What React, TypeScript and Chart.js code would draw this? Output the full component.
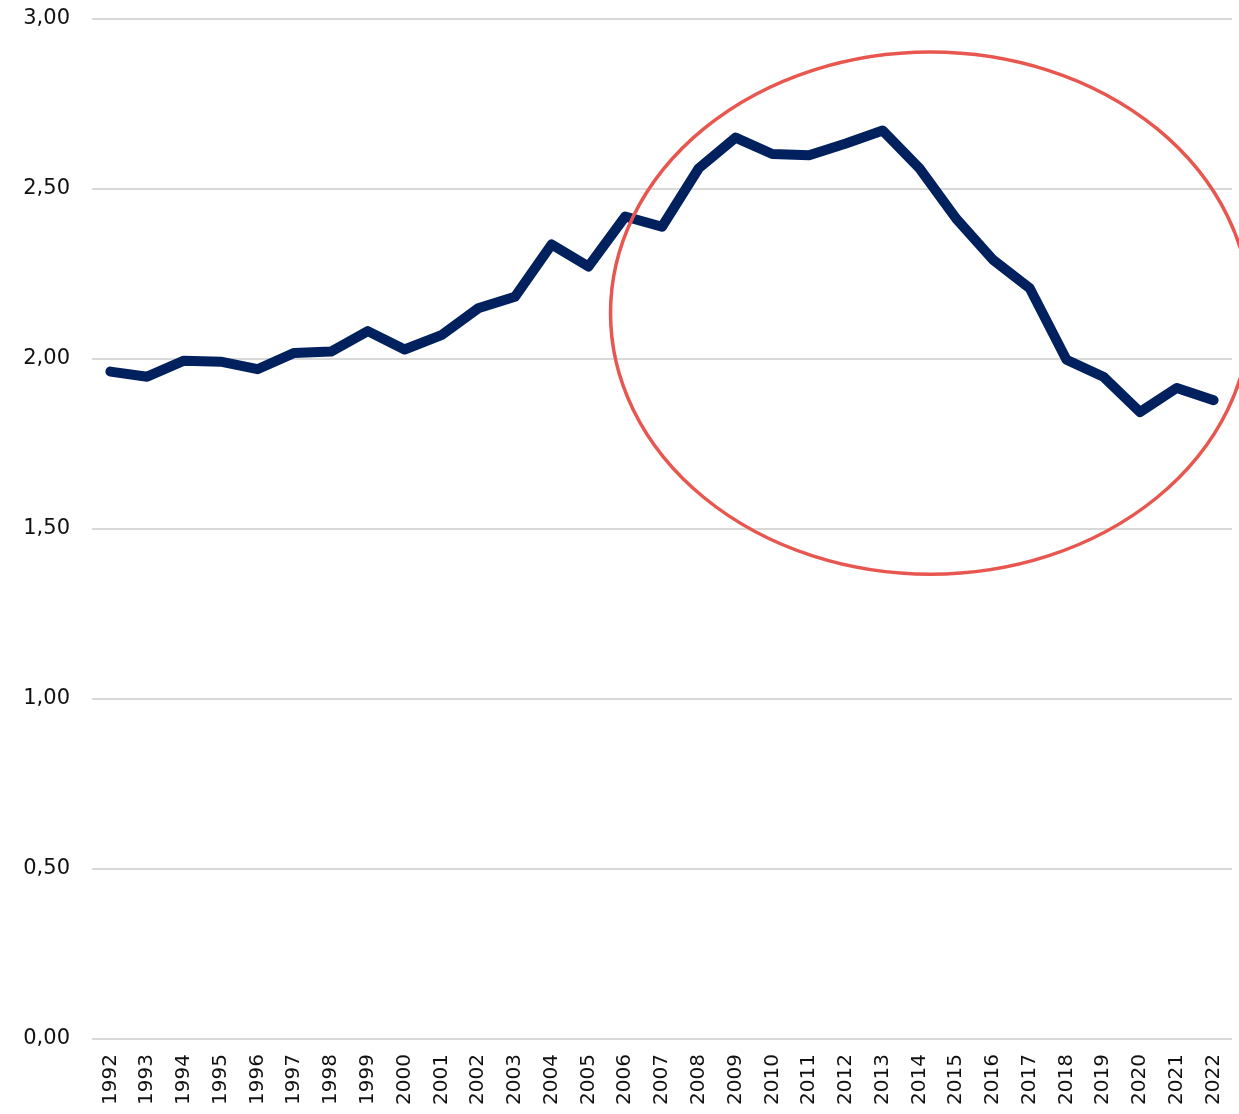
import React, { useEffect, useRef } from "react";
import { Chart, registerables } from "chart.js";

Chart.register(...registerables);

const years: string[] = [
  "1992", "1993", "1994", "1995", "1996", "1997", "1998", "1999", "2000", "2001",
  "2002", "2003", "2004", "2005", "2006", "2007", "2008", "2009", "2010", "2011",
  "2012", "2013", "2014", "2015", "2016", "2017", "2018", "2019", "2020", "2021", "2022",
];

const values: number[] = [
  1.963, 1.948, 1.995, 1.992, 1.97, 2.018, 2.022, 2.082, 2.028, 2.07,
  2.149, 2.183, 2.337, 2.272, 2.419, 2.389, 2.561, 2.651, 2.603, 2.599,
  2.634, 2.672, 2.561, 2.413, 2.292, 2.208, 1.998, 1.948, 1.844, 1.915, 1.879,
];

const yMin = 0;
const yMax = 3;
const yStep = 0.5;

// highlight ellipse, in data units (category index, value)
const ellipseCenterIndex = 22.3;
const ellipseCenterValue = 2.135;
const ellipseHalfWidthIndex = 8.7;
const ellipseHalfHeightValue = 0.768;

const FONT = "'DejaVu Sans', sans-serif";

const ellipsePlugin = {
  id: "highlightEllipse",
  afterDatasetsDraw(chart: any) {
    const { ctx, scales } = chart;
    const x = scales.x;
    const y = scales.y;
    const cx = x.getPixelForValue(ellipseCenterIndex);
    const cy = y.getPixelForValue(ellipseCenterValue);
    const rx = Math.abs(x.getPixelForValue(ellipseCenterIndex + ellipseHalfWidthIndex) - cx);
    const ry = Math.abs(y.getPixelForValue(ellipseCenterValue + ellipseHalfHeightValue) - cy);
    ctx.save();
    ctx.beginPath();
    ctx.ellipse(cx, cy, rx, ry, 0, 0, Math.PI * 2);
    ctx.strokeStyle = "#E8574F";
    ctx.lineWidth = 3.5;
    ctx.stroke();
    ctx.restore();
  },
};

export default function App() {
  const ref = useRef<HTMLCanvasElement | null>(null);

  useEffect(() => {
    document.body.style.margin = "0";
    const canvas = ref.current;
    if (!canvas) return;
    const chart = new Chart(canvas, {
      type: "line",
      data: {
        labels: years,
        datasets: [
          {
            data: values,
            borderColor: "#00215E",
            borderWidth: 10,
            pointRadius: 0,
            pointHoverRadius: 0,
            tension: 0,
            borderJoinStyle: "round",
            borderCapStyle: "round",
            fill: false,
          },
        ],
      },
      options: {
        responsive: false,
        animation: false,
        layout: { padding: { top: 19, right: 7, left: 0, bottom: 0 } },
        plugins: {
          legend: { display: false },
          tooltip: { enabled: false },
        },
        scales: {
          x: {
            type: "category",
            offset: true,
            grid: { display: false, drawTicks: false },
            border: { display: false },
            ticks: {
              autoSkip: false,
              maxRotation: 90,
              minRotation: 90,
              padding: 15,
              color: "#111",
              font: { family: FONT, size: 20 },
            },
            afterFit(scale: any) {
              scale.height = 75;
              scale.paddingLeft = 0;
              scale.paddingRight = 0;
            },
          },
          y: {
            min: yMin,
            max: yMax,
            grid: { color: "#D9D9D9", lineWidth: 2, drawTicks: false },
            border: { display: false },
            ticks: {
              stepSize: yStep,
              padding: 22,
              color: "#111",
              font: { family: FONT, size: 21 },
              callback: (v: any) => Number(v).toFixed(2).replace(".", ","),
            },
            afterFit(scale: any) {
              scale.width = 92;
              scale.paddingTop = 0;
              scale.paddingBottom = 0;
            },
          },
        },
      },
      plugins: [ellipsePlugin],
    });
    return () => chart.destroy();
  }, []);

  return <canvas ref={ref} width={1239} height={1114} style={{ display: "block" }} />;
}
